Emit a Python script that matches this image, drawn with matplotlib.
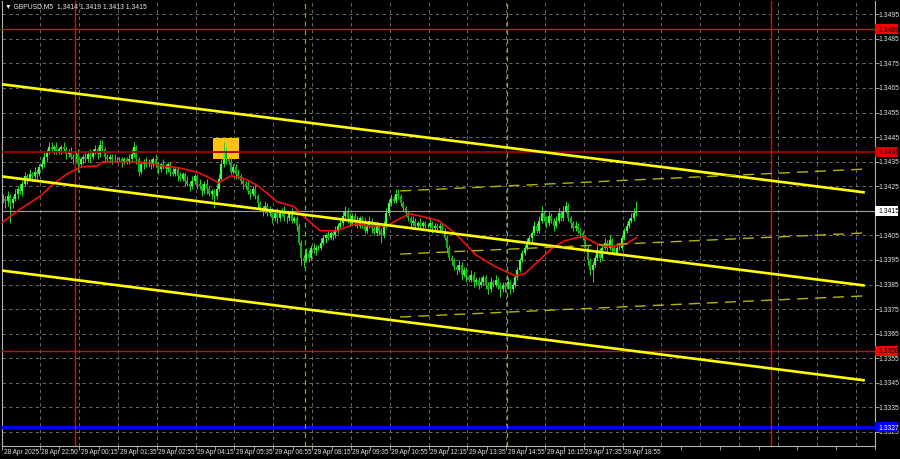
import numpy as np
import matplotlib.pyplot as plt
from matplotlib.patches import Rectangle

plt.rcParams['font.family'] = ['Liberation Sans', 'DejaVu Sans']

# --- данные (GBPUSD M5) ---
first_open = 1.3420
closes = [
    1.3420, 1.3419, 1.3421, 1.3418, 1.3420, 1.3422, 1.3424, 1.3423, 1.3426, 1.3429,
    1.3428, 1.3430, 1.3429, 1.3431, 1.3430, 1.3433, 1.3434, 1.3437, 1.3439, 1.3441,
    1.3440, 1.3441, 1.3439, 1.3440, 1.3441, 1.3440, 1.3438, 1.3439, 1.3437, 1.3436,
    1.3438, 1.3434, 1.3436, 1.3437, 1.3436, 1.3438, 1.3437, 1.3439, 1.3440, 1.3438,
    1.3442, 1.3440, 1.3437, 1.3436, 1.3437, 1.3436, 1.3436, 1.3436, 1.3436, 1.3435,
    1.3436, 1.3435, 1.3436, 1.3438, 1.3441, 1.3436, 1.3431, 1.3434, 1.3435, 1.3434,
    1.3435, 1.3434, 1.3436, 1.3434, 1.3432, 1.3434, 1.3433, 1.3432, 1.3434, 1.3431,
    1.3430, 1.3432, 1.3429, 1.3428, 1.3430, 1.3427, 1.3426, 1.3425, 1.3427, 1.3429,
    1.3426, 1.3425, 1.3423, 1.3426, 1.3424, 1.3422, 1.3423, 1.3421, 1.3424, 1.3428,
    1.3434, 1.3439, 1.3436, 1.3435, 1.3431, 1.3433, 1.3430, 1.3429, 1.3427, 1.3426,
    1.3425, 1.3423, 1.3422, 1.3424, 1.3421, 1.3418, 1.3416, 1.3415, 1.3417, 1.3414,
    1.3415, 1.3412, 1.3414, 1.3412, 1.3414, 1.3415, 1.3412, 1.3412, 1.3414, 1.3411,
    1.3412, 1.3409, 1.3402, 1.3396, 1.3395, 1.3398, 1.3396, 1.3400, 1.3399, 1.3400,
    1.3400, 1.3402, 1.3404, 1.3405, 1.3404, 1.3406, 1.3405, 1.3407, 1.3409, 1.3410,
    1.3413, 1.3415, 1.3412, 1.3410, 1.3413, 1.3411, 1.3409, 1.3412, 1.3410, 1.3407,
    1.3409, 1.3411, 1.3408, 1.3406, 1.3409, 1.3407, 1.3405, 1.3409, 1.3414, 1.3418,
    1.3420, 1.3419, 1.3422, 1.3421, 1.3418, 1.3416, 1.3414, 1.3412, 1.3410, 1.3411,
    1.3409, 1.3410, 1.3409, 1.3410, 1.3409, 1.3409, 1.3410, 1.3408, 1.3409, 1.3408,
    1.3409, 1.3407, 1.3404, 1.3400, 1.3396, 1.3395, 1.3392, 1.3391, 1.3393, 1.3389,
    1.3391, 1.3388, 1.3387, 1.3389, 1.3386, 1.3387, 1.3385, 1.3386, 1.3388, 1.3385,
    1.3383, 1.3386, 1.3385, 1.3387, 1.3385, 1.3383, 1.3385, 1.3384, 1.3386, 1.3383,
    1.3385, 1.3388, 1.3391, 1.3395, 1.3398, 1.3400, 1.3402, 1.3404, 1.3406, 1.3409,
    1.3407, 1.3411, 1.3414, 1.3412, 1.3410, 1.3413, 1.3411, 1.3409, 1.3411, 1.3414,
    1.3412, 1.3415, 1.3417, 1.3412, 1.3410, 1.3408, 1.3409, 1.3407, 1.3406, 1.3404,
    1.3400, 1.3395, 1.3391, 1.3393, 1.3396, 1.3399, 1.3396, 1.3400, 1.3402, 1.3400,
    1.3403, 1.3400, 1.3398, 1.3400, 1.3400, 1.3404, 1.3407, 1.3409, 1.3411, 1.3412,
    1.3414, 1.3415,
]
# тени свечей в пунктах (вверх / вниз от тела)
wick_up_pips = [
    2, 1, 2, 1, 1, 2, 1, 2, 1, 2, 1, 2, 1, 2, 1, 1, 2, 2, 1, 2,
    2, 1, 2, 1, 1, 2, 1, 1, 2, 1, 1, 2, 1, 1, 2, 1, 2, 1, 2, 1,
    2, 2, 1, 1, 1, 1, 2, 1, 1, 1, 1, 1, 2, 2, 2, 1, 1, 1, 1, 2,
    1, 1, 1, 2, 1, 1, 2, 1, 1, 1, 2, 1, 1, 2, 1, 1, 2, 1, 2, 1,
    1, 2, 1, 1, 2, 1, 1, 1, 2, 2, 2, 4, 2, 1, 2, 1, 1, 2, 1, 1,
    1, 2, 1, 1, 2, 1, 1, 1, 2, 1, 2, 1, 1, 2, 1, 1, 2, 1, 1, 2,
    1, 1, 1, 1, 1, 2, 1, 1, 2, 1, 1, 2, 1, 1, 2, 1, 1, 2, 1, 2,
    2, 2, 1, 2, 1, 1, 2, 1, 1, 2, 1, 2, 1, 1, 2, 1, 1, 2, 2, 2,
    2, 1, 2, 2, 1, 1, 1, 1, 1, 2, 1, 1, 2, 1, 1, 1, 2, 1, 1, 1,
    1, 1, 1, 1, 1, 1, 1, 1, 2, 1, 1, 1, 1, 2, 1, 1, 1, 2, 1, 1,
    1, 2, 1, 2, 1, 1, 1, 1, 2, 1, 1, 1, 1, 1, 1, 1, 2, 1, 1, 2,
    1, 2, 3, 1, 1, 2, 1, 1, 2, 2, 1, 2, 2, 1, 1, 1, 2, 1, 1, 1,
    1, 1, 1, 1, 1, 2, 1, 1, 2, 1, 2, 1, 1, 1, 2, 1, 1, 1, 1, 2,
    2, 4,
]
wick_dn_pips = [
    2, 3, 2, 8, 2, 1, 2, 1, 2, 1, 2, 1, 2, 1, 2, 1, 1, 1, 2, 1,
    1, 2, 1, 1, 2, 1, 2, 1, 1, 2, 1, 3, 1, 2, 1, 1, 2, 1, 1, 2,
    1, 1, 2, 1, 1, 2, 1, 1, 1, 2, 1, 1, 1, 1, 1, 2, 2, 1, 2, 1,
    1, 2, 1, 1, 2, 1, 1, 2, 1, 2, 1, 1, 2, 1, 1, 2, 1, 2, 1, 1,
    2, 1, 2, 1, 2, 1, 2, 5, 1, 1, 1, 1, 2, 1, 1, 1, 2, 1, 1, 2,
    1, 1, 2, 1, 1, 2, 1, 2, 1, 1, 1, 2, 1, 2, 1, 1, 1, 2, 1, 1,
    1, 2, 1, 3, 3, 1, 2, 1, 1, 2, 1, 1, 1, 2, 1, 1, 2, 1, 1, 1,
    1, 1, 2, 1, 1, 2, 1, 1, 2, 1, 1, 1, 2, 1, 1, 2, 3, 1, 1, 1,
    1, 1, 1, 1, 1, 1, 1, 1, 2, 1, 1, 1, 1, 1, 1, 1, 1, 2, 1, 1,
    1, 1, 1, 2, 1, 2, 1, 2, 1, 2, 1, 2, 1, 1, 2, 1, 2, 1, 1, 2,
    2, 1, 1, 1, 2, 3, 1, 2, 1, 2, 1, 1, 1, 1, 1, 1, 1, 1, 2, 1,
    1, 1, 1, 1, 2, 1, 1, 2, 1, 1, 1, 1, 1, 1, 2, 1, 1, 1, 2, 1,
    1, 2, 2, 5, 1, 1, 2, 1, 1, 2, 1, 2, 1, 1, 1, 1, 1, 1, 1, 1,
    1, 1,
]

# скользящая средняя (красная линия), точки по номеру бара
ma_bar = [-0.4, 7.3, 15.5, 20.8, 26.5, 30.5, 32.6, 38.7, 41.1, 45.2, 53.4, 59.1, 65.2,
          72.5, 80.7, 86, 88.8, 91.6, 94.1, 99.8, 105, 109, 113, 120, 124, 130.7,
          137.7, 141.8, 145.8, 150, 158, 162, 167.4, 171.5, 179.6, 186.6, 194.7,
          202.9, 211, 215, 220.4, 226, 231.4, 238.3, 240.7, 244.8, 248.9, 253, 257, 261]
ma_val = [1.34102, 1.34159, 1.34211, 1.34260, 1.34301, 1.34321, 1.34329, 1.34333,
          1.34350, 1.34350, 1.34350, 1.34346, 1.34333, 1.34325, 1.34305, 1.34280,
          1.34264, 1.34280, 1.34293, 1.34280, 1.34252, 1.34220, 1.34187, 1.34167,
          1.34126, 1.34069, 1.34069, 1.34085, 1.34098, 1.34089, 1.34089, 1.34110,
          1.34138, 1.34130, 1.34110, 1.34057, 1.33972, 1.33923, 1.33886, 1.33894,
          1.33943, 1.33996, 1.34028, 1.34045, 1.34037, 1.34016, 1.34004, 1.34008,
          1.34016, 1.34041]

# канал (жёлтые линии): (бар, цена) начала и конца
channel_solid = [
    ((-1.22, 1.34666), (355.2, 1.34225)),
    ((-1.22, 1.34291), (355.2, 1.33846)),
    ((-1.22, 1.33908), (355.2, 1.33460)),
]
channel_dashed = [
    ((163.7, 1.34231), (355.2, 1.34320)),
    ((163.7, 1.33974), (355.2, 1.34060)),
    ((163.7, 1.33718), (355.2, 1.33804)),
]

levels_red = [1.3489, 1.3439, 1.3358]
level_blue = 1.3327
last_price = 1.3415
day_lines = [29.7, 316.5]
session_lines = [124.6, 207.7]
signal_box = (86.4, 97.4, 1.34361, 1.34447)

time_labels = ["28 Apr 2025", "28 Apr 22:50", "29 Apr 00:15", "29 Apr 01:35",
               "29 Apr 02:55", "29 Apr 04:15", "29 Apr 05:35", "29 Apr 06:55",
               "29 Apr 08:15", "29 Apr 09:35", "29 Apr 10:55", "29 Apr 12:15",
               "29 Apr 13:35", "29 Apr 14:55", "29 Apr 16:15", "29 Apr 17:35",
               "29 Apr 18:55"]
time_pos = [-0.4, 15.1] + [31.4 + 16 * i for i in range(15)]
grid_x = [15.1] + [31.4 + 16 * i for i in range(21)]
price_ticks = [round(1.3325 + 0.001 * i, 4) for i in range(18)]
title = "\u25bc GBPUSD,M5  1.3414 1.3419 1.3413 1.3415"

# --- подготовка свечей ---
closes = np.array(closes)
opens = np.r_[first_open, closes[:-1]]
bars = np.arange(len(closes))
highs = np.maximum(opens, closes) + np.array(wick_up_pips) * 1e-4
lows = np.minimum(opens, closes) - np.array(wick_dn_pips) * 1e-4
up = closes >= opens

W, H = 900, 460
fig = plt.figure(figsize=(9, 4.6), dpi=100, facecolor='black')
ax = fig.add_axes([2 / W, 13 / H, 873 / W, 445 / H])
ax.set_facecolor('black')
ax.set_xlim(-0.41, 355.2)
ax.set_ylim(1.33193, 1.35004)

grid_kw = dict(color='#7C7C7C', lw=0.6, ls=(0, (4, 4)), zorder=0.5)
for gx in grid_x:
    ax.axvline(gx, **grid_kw)
for p in price_ticks:
    ax.axhline(p, **grid_kw)

ax.add_patch(Rectangle((signal_box[0], signal_box[2]), signal_box[1] - signal_box[0],
                       signal_box[3] - signal_box[2], fc='#FFC20E', ec='none', zorder=1))

# свечи
ax.vlines(bars, lows, highs, color='#2BD62B', lw=0.7, zorder=2)
ax.vlines(bars[up], opens[up], closes[up], color='#40FF40', lw=1.6, zorder=2.1)
ax.vlines(bars[~up], closes[~up], opens[~up], color='#1CA81C', lw=1.6, zorder=2.1)

# горизонтальные уровни
ax.axhline(last_price, color='#A0A0A0', lw=0.8, zorder=2.5)
ax.axhline(levels_red[0], color='#FF0000', lw=1.0, zorder=3)
ax.axhline(levels_red[1], color='#A00000', lw=1.3, zorder=3)
ax.axhline(levels_red[2], color='#E00000', lw=1.0, zorder=3)
ax.axhline(level_blue, color='#0000FF', lw=2.2, zorder=3)

for d in day_lines:
    ax.axvline(d, color='#FF0000', lw=1.0, zorder=3)
for s in session_lines:
    ax.axvline(s, color='#44C800', lw=0.9, ls=(0, (4, 3)), zorder=3)

ax.plot(ma_bar, ma_val, color='#F01010', lw=1.2, zorder=4)

for (x1, y1), (x2, y2) in channel_solid:
    ax.plot([x1, x2], [y1, y2], color='#FFFF00', lw=1.9, zorder=5, solid_capstyle='butt')
for (x1, y1), (x2, y2) in channel_dashed:
    ax.plot([x1, x2], [y1, y2], color='#B4B400', lw=1.0, ls=(0, (8, 5)), zorder=5)

# оси
for sp in ax.spines.values():
    sp.set_color('#B4B4B4')
    sp.set_linewidth(0.8)
ax.spines['top'].set_visible(False)
ax.yaxis.tick_right()
ax.set_yticks(price_ticks)
ax.tick_params(axis='y', length=3, width=0.6, color='#B4B4B4', labelright=False)
ax.set_xticks(time_pos)
ax.set_xticks([g + 8 for g in grid_x], minor=True)
ax.tick_params(axis='x', which='both', length=3, width=0.6, color='#B4B4B4',
               labelbottom=False)

# подписи (в пикселях картинки, отсчёт снизу)
to_px = ax.transData
ax_right = ax.transAxes.transform((1, 0))[0]

for lab, pos in zip(time_labels, time_pos):
    xd = to_px.transform((pos, 0))[0]
    fig.text((xd + 1.5) / W, 7 / H, lab, ha='left', va='center', fontsize=4.7,
             color='#E0E0E0')

for p in price_ticks:
    yd = to_px.transform((0, p))[1]
    fig.text((ax_right + 3.5) / W, yd / H, f"{p:.4f}", ha='left', va='center',
             fontsize=4.9, color='#E0E0E0')

box_labels = [(levels_red[0], '#FF0000', '#1A0000'), (levels_red[1], '#E00000', '#1A0000'),
              (levels_red[2], '#FF0000', '#1A0000'), (level_blue, '#0000FF', '#FFFFFF'),
              (last_price, '#FFFFFF', '#000000')]
for val, fc, tc in box_labels:
    yd = to_px.transform((0, val))[1]
    fig.add_artist(Rectangle((ax_right / W, (yd - 5) / H), 23 / W, 10 / H, fc=fc,
                             ec='none', transform=fig.transFigure, zorder=20))
    fig.text((ax_right + 3.5) / W, yd / H, f"{val:.4f}", ha='left', va='center',
             fontsize=4.9, color=tc, zorder=21)

fig.text(5 / W, 453 / H, title, ha='left', va='center', fontsize=4.9, color='#E6E6E6')

fig.savefig('out.png', dpi=100, facecolor='black')
